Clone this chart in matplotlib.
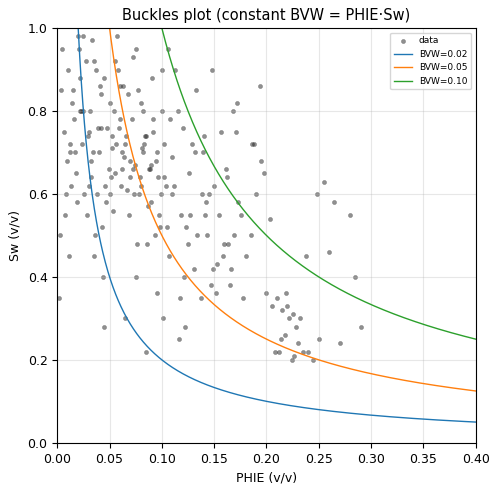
import numpy as np
import matplotlib
matplotlib.use("Agg")
import matplotlib.pyplot as plt

# scatter values
phie = [0.005,0.01,0.015,0.02,0.025,0.03,0.035,0.04,0.045,0.05,0.055,0.06,0.065,0.07,0.075,0.08,0.085,0.09,0.095,0.1,
        0.008,0.012,0.018,0.022,0.028,0.033,0.038,0.042,0.048,0.052,0.058,0.062,0.068,0.072,0.078,0.082,0.088,0.092,0.098,0.104,
        0.003,0.011,0.019,0.027,0.036,0.044,0.053,0.061,0.069,0.077,0.086,0.094,0.102,0.11,0.118,0.126,0.134,0.142,0.15,0.158,
        0.006,0.014,0.024,0.032,0.041,0.049,0.057,0.066,0.074,0.083,0.091,0.099,0.107,0.115,0.123,0.131,0.139,0.147,0.155,0.163,
        0.002,0.016,0.026,0.034,0.046,0.054,0.064,0.071,0.079,0.087,0.096,0.105,0.113,0.121,0.129,0.137,0.145,0.153,0.161,0.169,
        0.009,0.021,0.031,0.039,0.047,0.056,0.063,0.073,0.081,0.089,0.097,0.108,0.117,0.125,0.133,0.141,0.149,0.157,0.165,0.173,
        0.004,0.013,0.023,0.029,0.037,0.043,0.051,0.059,0.067,0.076,0.084,0.093,0.101,0.112,0.122,0.132,0.143,0.152,0.162,0.172,
        0.007,0.017,0.025,0.035,0.045,0.055,0.065,0.075,0.085,0.095,0.106,0.116,0.127,0.138,0.148,0.159,0.168,0.178,0.186,0.194,
        0.205,0.21,0.215,0.22,0.222,0.225,0.228,0.218,0.212,0.23,0.2,0.195,0.19,0.185,0.18,0.176,0.171,0.166,0.24,0.25,
        0.255,0.26,0.265,0.27,0.28,0.285,0.29,0.232,0.238,0.245,0.248,0.235,0.226,0.203,0.198,0.188,0.208,0.214,0.219,0.224,
        0.012,0.022,0.032,0.042,0.052,0.062,0.072,0.082,0.092,0.102,0.03,0.05,0.07,0.09,0.11,0.06,0.08,0.1,0.12,0.14]
sw = [0.95,0.9,0.85,0.98,0.8,0.75,0.92,0.7,0.88,0.82,0.65,0.78,0.72,0.68,0.95,0.62,0.74,0.58,0.7,0.9,
      0.6,0.7,0.65,0.88,0.55,0.97,0.6,0.84,0.76,0.71,0.9,0.66,0.84,0.93,0.6,0.8,0.66,0.75,0.52,0.62,
      0.5,0.45,0.58,0.92,0.5,0.4,0.56,0.62,0.55,0.85,0.48,0.68,0.72,0.6,0.55,0.65,0.5,0.58,0.62,0.45,
      0.75,0.82,0.72,0.64,0.86,0.66,0.98,0.74,0.67,0.72,0.88,0.6,0.45,0.8,0.52,0.42,0.7,0.38,0.55,0.48,
      0.35,0.78,0.6,0.7,0.62,0.8,0.69,0.78,0.64,0.57,0.64,0.52,0.9,0.4,0.72,0.35,0.6,0.43,0.66,0.5,
      0.68,0.95,0.8,0.76,0.58,0.72,0.86,0.6,0.71,0.66,0.55,0.78,0.35,0.48,0.85,0.55,0.42,0.75,0.38,0.58,
      0.85,0.62,0.8,0.74,0.9,0.52,0.64,0.76,0.61,0.48,0.74,0.5,0.3,0.62,0.28,0.7,0.5,0.36,0.64,0.82,
      0.55,0.7,0.98,0.45,0.28,0.92,0.3,0.4,0.22,0.36,0.95,0.25,0.55,0.6,0.9,0.48,0.8,0.35,0.72,0.86,
      0.33,0.35,0.32,0.33,0.3,0.31,0.28,0.26,0.22,0.24,0.36,0.68,0.6,0.5,0.45,0.55,0.75,0.42,0.22,0.25,
      0.63,0.46,0.58,0.24,0.55,0.4,0.28,0.3,0.45,0.2,0.6,0.22,0.21,0.54,0.65,0.72,0.22,0.25,0.36,0.2,
      0.72,0.8,0.68,0.76,0.74,0.7,0.66,0.7,0.78,0.64,0.62,0.6,0.64,0.67,0.69,0.86,0.82,0.8,0.76,0.74]
bvw_values = [0.02, 0.05, 0.10]
colors = ['#1f77b4', '#ff7f0e', '#2ca02c']

plt.rcParams['font.size'] = 9
fig, ax = plt.subplots(figsize=(4.98, 4.92), dpi=100)
ax.scatter(phie, sw, s=9, c='#222222', alpha=0.5, label='data', linewidths=0.3, edgecolors='#222222')
phi = np.linspace(0.001, 0.4, 800)
for b, c in zip(bvw_values, colors):
    ax.plot(phi, b / phi, color=c, lw=1, label=f'BVW={b:.2f}')
ax.set_xlim(0, 0.4)
ax.set_ylim(0, 1)
ax.set_xlabel('PHIE (v/v)', fontsize=9)
ax.set_ylabel('Sw (v/v)', fontsize=9)
ax.set_title('Buckles plot (constant BVW = PHIE·Sw)', fontsize=10.5)
ax.grid(True, alpha=0.3)
ax.legend(loc='upper right', fontsize=6.5)
fig.subplots_adjust(left=0.115, right=0.955, top=0.943, bottom=0.1)
fig.savefig('out.png', dpi=100)
